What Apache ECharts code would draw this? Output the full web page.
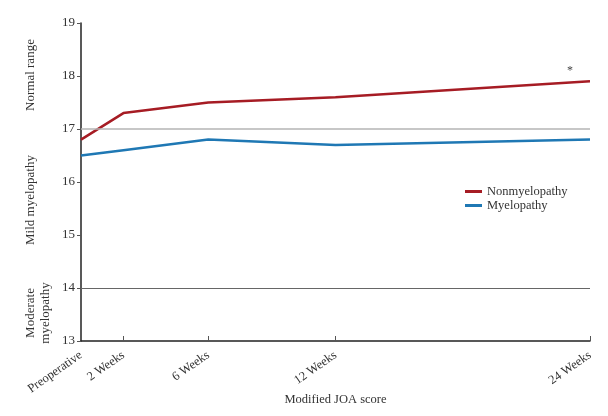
<!DOCTYPE html>
<html><head><meta charset="utf-8">
<script src="https://cdn.jsdelivr.net/npm/echarts@6/dist/echarts.min.js"></script>
<style>html,body{margin:0;padding:0;background:#fff}#c{width:608px;height:416px}</style>
</head><body><div id="c"></div>
<script>
const weeks = [0, 2, 6, 12, 24];
const tickLabels = ['Preoperative', '2 Weeks', '6 Weeks', '12 Weeks', '24 Weeks'];
const nonmyelopathy = [16.8, 17.3, 17.5, 17.6, 17.9];
const myelopathy = [16.5, 16.6, 16.8, 16.7, 16.8];
const bandLabels = ['Normal range', 'Mild myelopathy', 'Moderate\nmyelopathy'];
const refLines = [17, 14];

const F = 'Liberation Serif, Times New Roman, serif';
const chart = echarts.init(document.getElementById('c'));
const pair = (v) => weeks.map((w, i) => [w, v[i]]);
chart.setOption({
  animation: false,
  textStyle: {fontFamily: F},
  grid: {left: 81, right: 18, top: 23, bottom: 75, containLabel: false, outerBoundsMode: 'none'},
  legend: {
    orient: 'vertical', left: 460, top: 180, itemWidth: 17, itemHeight: 3, itemGap: 1,
    icon: 'rect',
    textStyle: {fontFamily: F, fontSize: 12.5, color: '#333', lineHeight: 13},
    data: ['Nonmyelopathy', 'Myelopathy']
  },
  xAxis: {
    type: 'value', min: 0, max: 24,
    name: 'Modified JOA score', nameLocation: 'middle', nameGap: 52, nameMoveOverlap: false,
    nameTextStyle: {fontFamily: F, fontSize: 12.5, color: '#333'},
    axisLine: {lineStyle: {color: '#222', width: 1.5}},
    axisTick: {show: true, inside: true, length: 5, customValues: weeks.slice(1), lineStyle: {color: '#555'}},
    axisLabel: {
      customValues: weeks, rotate: 35, fontFamily: F, fontSize: 12.5, color: '#333', margin: 13,
      formatter: (v) => tickLabels[weeks.indexOf(v)] || ''
    },
    splitLine: {show: false}
  },
  yAxis: {
    type: 'value', min: 13, max: 19, interval: 1,
    axisLine: {show: true, lineStyle: {color: '#222', width: 1.5}},
    axisTick: {show: true, length: 4, lineStyle: {color: '#555'}},
    axisLabel: {fontFamily: F, fontSize: 13, color: '#333', margin: 6},
    splitLine: {show: false}
  },
  series: [
    {
      name: 'Nonmyelopathy', type: 'line', data: pair(nonmyelopathy), symbol: 'none',
      lineStyle: {color: '#a61c24', width: 2.5}, itemStyle: {color: '#a61c24'},
      markPoint: {
        symbol: 'circle', symbolSize: 0,
        label: {show: true, formatter: '*', color: '#444', fontSize: 12, offset: [-20, -10]},
        data: [{coord: [24, 17.9]}]
      },
      markLine: {
        silent: true, symbol: 'none', label: {show: false},
        data: [
          {yAxis: refLines[0], lineStyle: {color: '#b5b5b5', width: 1.5, type: 'solid'}},
          {yAxis: refLines[1], lineStyle: {color: '#666', width: 1, type: 'solid'}}
        ]
      }
    },
    {
      name: 'Myelopathy', type: 'line', data: pair(myelopathy), symbol: 'none',
      lineStyle: {color: '#1f78b4', width: 2.5}, itemStyle: {color: '#1f78b4'}
    }
  ],
  graphic: [
    {type: 'text', x: 31, y: 75, rotation: Math.PI / 2,
     style: {text: bandLabels[0], font: '13px ' + F, fill: '#333', align: 'center', verticalAlign: 'middle'}},
    {type: 'text', x: 31, y: 200, rotation: Math.PI / 2,
     style: {text: bandLabels[1], font: '13px ' + F, fill: '#333', align: 'center', verticalAlign: 'middle'}},
    {type: 'text', x: 38, y: 313, rotation: Math.PI / 2,
     style: {text: bandLabels[2], font: '13px ' + F, fill: '#333', align: 'center', verticalAlign: 'middle', lineHeight: 15}}
  ]
});
</script></body></html>
